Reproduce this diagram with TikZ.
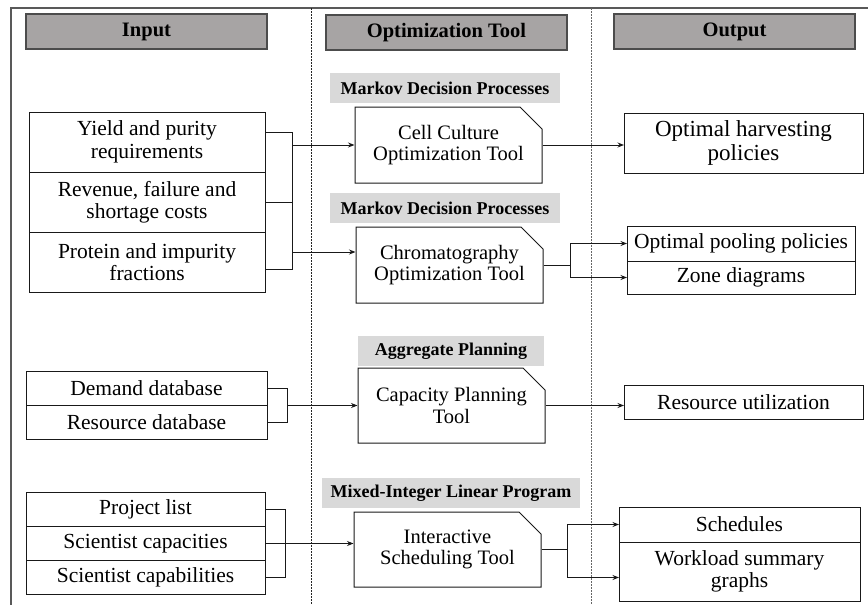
\documentclass[tikz,border=0pt]{standalone}
\usepackage{fontspec}
\setmainfont{Liberation Serif}
\usepackage{tikz}
\usetikzlibrary{positioning, calc, shapes.misc, arrows.meta}

\definecolor{headgray}{RGB}{167,164,164}
\definecolor{bandgray}{RGB}{217,217,217}

\newcommand{\hdfont}{\fontsize{20.5}{22}\selectfont\bfseries}
\newcommand{\bdfont}{\fontsize{18}{20}\selectfont\bfseries}
\newcommand{\txfont}{\fontsize{21.5}{22.5}\selectfont}
\newcommand{\tlfont}{\fontsize{20.5}{21.5}\selectfont}

\tikzset{
  frame/.style   = {draw=black!65, line width=1.4pt},
  divider/.style = {draw=black!85, line width=0.9pt, dash pattern=on 1.6pt off 1.4pt},
  head/.style    = {draw=black!70, fill=headgray, line width=1.2pt, minimum width=241pt, minimum height=35pt, font=\hdfont},
  band/.style    = {fill=bandgray, minimum height=30pt, inner sep=0pt, font=\bdfont},
  item/.style    = {draw=black!90, line width=1pt, outer sep=0pt, inner sep=0pt, minimum width=236pt, minimum height=60pt, align=center, font=\txfont},
  tool/.style    = {chamfered rectangle, chamfered rectangle corners=north east, chamfered rectangle xsep=11pt, chamfered rectangle ysep=11pt,
                    draw=black!90, line width=1pt, inner sep=0pt, minimum width=187pt, minimum height=76pt, align=center, font=\tlfont},
  link/.style    = {draw=black!90, line width=1pt},
}

\begin{document}
\begin{tikzpicture}[x=1pt, y=-1pt, >={Stealth[length=6.5pt, width=5pt]}]
	\useasboundingbox (0,0) rectangle (868,605);

	% frame and column separators
	\draw[frame] (11,605) -- (11,8) -- (868,8);
	\draw[divider] (311,8) -- (311,605);
	\draw[divider, draw=black!60] (591,8) -- (591,605);

	% column headers
	\node[head]								(hIn)	at (146.5,31.5)	{Input};
	\node[head]								(hOpt)	at (446.5,32.5)	{Optimization Tool};
	\node[head]								(hOut)	at (734.5,31.5)	{Output};

	% method bands
	\node[band, minimum width=230pt]		(mdp1)	at (445,88)		{Markov Decision Processes};
	\node[band, minimum width=230pt]		(mdp2)	at (445,208)	{Markov Decision Processes};
	\node[band, minimum width=186pt]		(agg)	at (451,351)	{Aggregate Planning};
	\node[band, minimum width=258pt]		(milp)	at (451,493)	{Mixed-Integer Linear Program};

	% tools
	\node[tool]								(cct)	at (448.5,145)	{Cell Culture\\Optimization Tool};
	\node[tool]								(chrom)	at (449.5,265)	{Chromatography\\Optimization Tool};
	\node[tool, minimum height=75pt]		(cap)	at (451.5,405.5){Capacity Planning\\Tool};
	\node[tool, minimum height=75pt]		(ist)	at (447.5,549.5){Interactive\\Scheduling Tool};

	% inputs
	\node[item]								(yield)	at (147,142)		{Yield and purity\\requirements};
	\node[item]								(rev)	[below=0pt of yield]	{Revenue, failure and\\shortage costs};
	\node[item]								(prot)	[below=0pt of rev]		{Protein and impurity\\fractions};

	\node[item, minimum width=241pt, minimum height=34pt]	(dem)	at (146.5,388.5)		{Demand database};
	\node[item, minimum width=241pt, minimum height=34pt]	(res)	[below=0pt of dem]		{Resource database};

	\node[item, minimum width=239pt, minimum height=34pt]	(proj)	at (145.5,509.5)		{Project list};
	\node[item, minimum width=239pt, minimum height=34pt]	(scap)	[below=0pt of proj]		{Scientist capacities};
	\node[item, minimum width=239pt, minimum height=34pt]	(scab)	[below=0pt of scap]		{Scientist capabilities};

	% outputs
	\node[item, minimum width=239pt, font=\fontsize{23}{23.5}\selectfont]	(harv)	at (743.5,143)	{Optimal harvesting\\policies};
	\node[item, minimum width=228pt, minimum height=35pt]	(pool)	at (741,243.5)			{Optimal pooling policies};
	\node[item, minimum width=228pt, minimum height=33pt]	(zone)	[below=0pt of pool]		{Zone diagrams};
	\node[item, minimum width=239pt, minimum height=34pt]	(resu)	at (743.5,402)			{Resource utilization};
	\node[item, minimum width=241pt, minimum height=35pt]	(sched)	at (739.5,524.5)		{Schedules};
	\node[item, minimum width=241pt, minimum height=59pt]	(work)	[below=0pt of sched]	{Workload summary\\graphs};

	% junction columns
	\coordinate (j1) at (292,0);
	\coordinate (j2) at (287,0);
	\coordinate (j3) at (285,0);
	\coordinate (k1) at (570,0);
	\coordinate (k3) at (567,0);
	\coordinate (s1) at ([yshift=10pt]yield.east);
	\coordinate (s3) at ([yshift=-7pt]prot.east);
	\coordinate (c2) at ([yshift=13pt]chrom.west);
	\coordinate (w2) at ([yshift=-6pt]work.west);

	% inputs -> tools
	\draw[link] (s1) -- (j1 |- s1) -- (j1 |- s3) -- (s3);
	\draw[link] (rev.east) -- (j1 |- rev.east);
	\draw[link, ->] (j1 |- cct.west) -- (cct.west);
	\draw[link, ->] (j1 |- c2) -- (c2);

	\draw[link] (dem.east) -| (j2 |- res.east) -- (res.east);
	\draw[link, ->] (j2 |- cap.west) -- (cap.west);

	\draw[link] (proj.east) -| (j3 |- scab.east) -- (scab.east);
	\draw[link, ->] (scap.east) -- (scap.east -| ist.west);

	% tools -> outputs
	\draw[link, ->] (cct.east) -- (cct.east -| harv.west);
	\draw[link, ->] (chrom.east) -- (k1 |- chrom.east) |- (pool.west);
	\draw[link, ->] (k1 |- chrom.east) |- (zone.west);
	\draw[link, ->] (cap.east) -- (cap.east -| resu.west);
	\draw[link, ->] (ist.east) -- (k3 |- ist.east) |- (sched.west);
	\draw[link, ->] (k3 |- ist.east) |- (w2);
\end{tikzpicture}
\end{document}
